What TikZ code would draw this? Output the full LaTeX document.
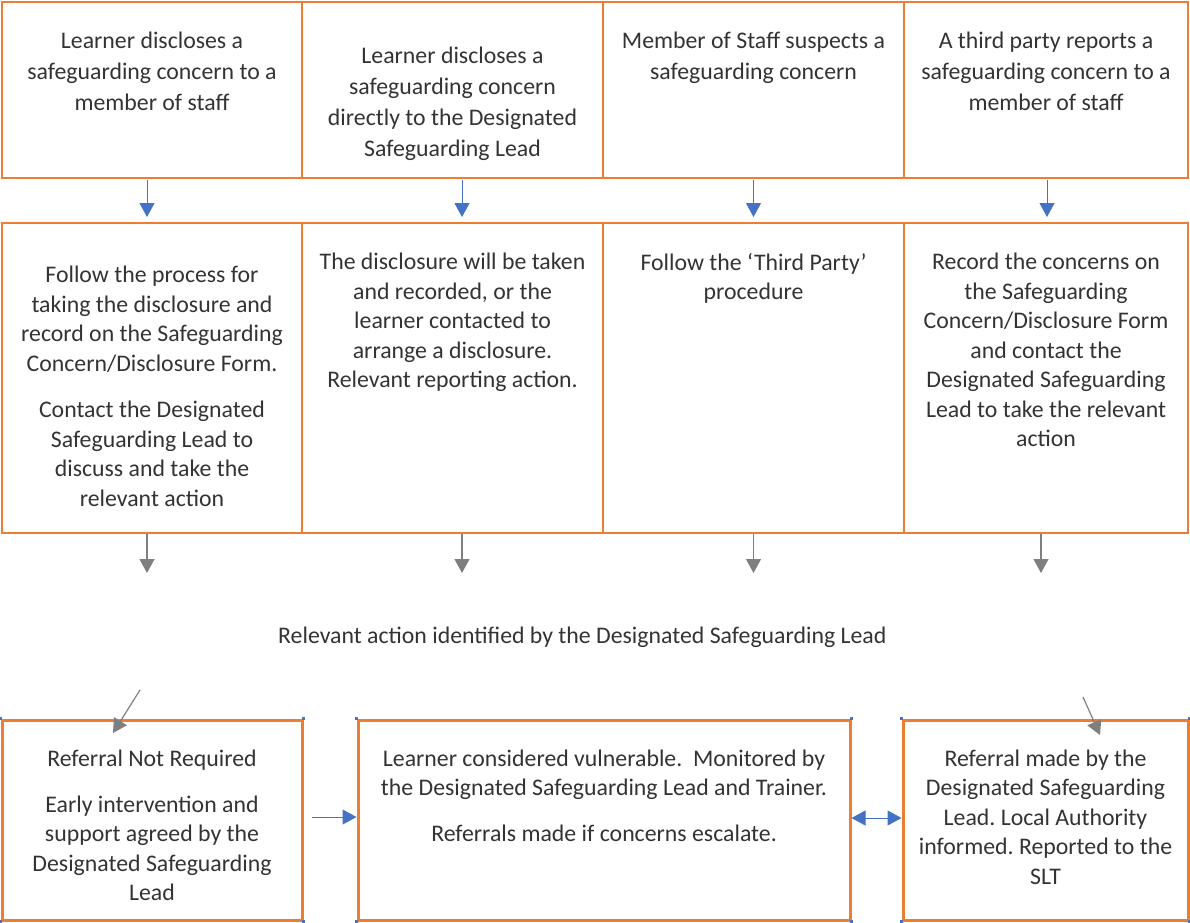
\documentclass[tikz,border=0pt]{standalone}
\usepackage{fontspec}
\setmainfont{Carlito}
\usetikzlibrary{positioning, arrows.meta}
\definecolor{boxorange}{HTML}{ED7D31}
\definecolor{arrowblue}{HTML}{4472C4}
\definecolor{arrowgray}{HTML}{7F7F7F}

\begin{document}
\frenchspacing
\begin{tikzpicture}[x = 1pt, y = -1pt,
  every node/.style = { align = center, font = \fontsize{23.8}{29.5}\selectfont, text = black!80, inner sep = 0pt },
  topline/.style = { font = \fontsize{23.8}{31}\selectfont },
  stepbox/.style = { draw = boxorange, line width = 2pt, shape = rectangle },
  endbox/.style = { draw = boxorange, line width = 3pt, shape = rectangle },
  bluearrow/.style = { draw = arrowblue, line width = 1pt, -{Triangle[width = 15pt, length = 14pt]} },
  grayarrow/.style = { draw = arrowgray, line width = 1.2pt, -{Triangle[width = 15pt, length = 14pt]} }
]
  \useasboundingbox (0,0) rectangle (1190,922);

  % first row
  \node [stepbox, minimum width = 300, minimum height = 176] (a1) at (152,90) {};
  \node [stepbox, minimum width = 301, minimum height = 176] (a2) at (452.5,90) {};
  \node [stepbox, minimum width = 301, minimum height = 176] (a3) at (753.5,90) {};
  \node [stepbox, minimum width = 284, minimum height = 176] (a4) at (1046,90) {};

  \node [topline, below = 31pt of a1.north] (ta1) { Learner discloses a \\ safeguarding concern to a \\ member of staff };
  \node [topline, below = 46pt of a2.north] (ta2) { Learner discloses a \\ safeguarding concern \\ directly to the Designated \\ Safeguarding Lead };
  \node [topline, below = 31pt of a3.north] (ta3) { Member of Staff suspects a \\ safeguarding concern };
  \node [topline, below = 31pt of a4.north] (ta4) { A third party reports a \\ safeguarding concern to a \\ member of staff };

  % second row
  \node [stepbox, minimum width = 300, minimum height = 310] (c1) at (152,378) {};
  \node [stepbox, minimum width = 301, minimum height = 310] (c2) at (452.5,378) {};
  \node [stepbox, minimum width = 301, minimum height = 310] (c3) at (753.5,378) {};
  \node [stepbox, minimum width = 284, minimum height = 310] (c4) at (1046,378) {};

  \node [below = 44pt of c1.north] (tc1) { Follow the process for \\ taking the disclosure and \\ record on the Safeguarding \\ Concern/Disclosure Form. \\[17pt]
    Contact the Designated \\ Safeguarding Lead to \\ discuss and take the \\ relevant action };
  \node [below = 31pt of c2.north] (tc2) { The disclosure will be taken \\ and recorded, or the \\ learner contacted to \\ arrange a disclosure. \\ Relevant reporting action. };
  \node [below = 31pt of c3.north] (tc3) { Follow the `Third Party' \\ procedure };
  \node [below = 31pt of c4.north] (tc4) { Record the concerns on \\ the Safeguarding \\ Concern/Disclosure Form \\ and contact the \\ Designated Safeguarding \\ Lead to take the relevant \\ action };

  \draw [bluearrow, shorten < = 1pt, shorten > = 5pt] ([xshift = -5pt]a1.south) -- ([xshift = -5pt]c1.north);
  \draw [bluearrow, shorten < = 1pt, shorten > = 5pt] ([xshift = 9.5pt]a2.south) -- ([xshift = 9.5pt]c2.north);
  \draw [bluearrow, shorten < = 1pt, shorten > = 5pt] (a3.south) -- (c3.north);
  \draw [bluearrow, shorten < = 1pt, shorten > = 5pt] ([xshift = 1pt]a4.south) -- ([xshift = 1pt]c4.north);

  % relevant action
  \node (lead) at (585,637) { Relevant action identified by the Designated Safeguarding Lead };

  \draw [grayarrow] ([xshift = -5pt]c1.south) -- ++(0,39);
  \draw [grayarrow] ([xshift = 9.5pt]c2.south) -- ++(0,39);
  \draw [grayarrow] (c3.south) -- ++(0,39);
  \draw [grayarrow] ([xshift = -5pt]c4.south) -- ++(0,39);

  % outcomes
  \node [endbox, minimum width = 300, minimum height = 200] (d1) at (152,820) {};
  \node [endbox, minimum width = 492, minimum height = 200] (d2) at (604,820) {};
  \node [endbox, minimum width = 285, minimum height = 200] (d3) at (1045.5,820) {};
  \foreach \b in {d1, d2, d3}
    \foreach \c in {north west, north east, south west, south east}
      \fill [arrowblue] (\b.\c) ++(-1.5,-1.5) rectangle ++(3,3);

  \node [below = 31pt of d1.north] (td1) { Referral Not Required \\[16.5pt] Early intervention and \\ support agreed by the \\ Designated Safeguarding \\ Lead };
  \node [below = 31pt of d2.north] (td2) { Learner considered vulnerable.\ \ Monitored by \\ the Designated Safeguarding Lead and Trainer. \\[16.5pt] Referrals made if concerns escalate. };
  \node [below = 31pt of d3.north] (td3) { Referral made by the \\ Designated Safeguarding \\ Lead. Local Authority \\ informed. Reported to the \\ SLT };

  \coordinate (from1) at (140,690);
  \coordinate (to1) at (113,733);
  \coordinate (from3) at (1083,697);
  \coordinate (to3) at (1100,735);
  \coordinate (from2) at (312,817);
  \draw [grayarrow] (from1) -- (to1);
  \draw [grayarrow] (from3) -- (to3);
  \draw [bluearrow] (from2) -- ([yshift = 3pt]d2.west);
  \draw [bluearrow, {Triangle[width = 15pt, length = 14pt]}-{Triangle[width = 15pt, length = 14pt]}] ([yshift = 2pt]d2.east) -- ([yshift = 2pt]d3.west);

\end{tikzpicture}
\end{document}
